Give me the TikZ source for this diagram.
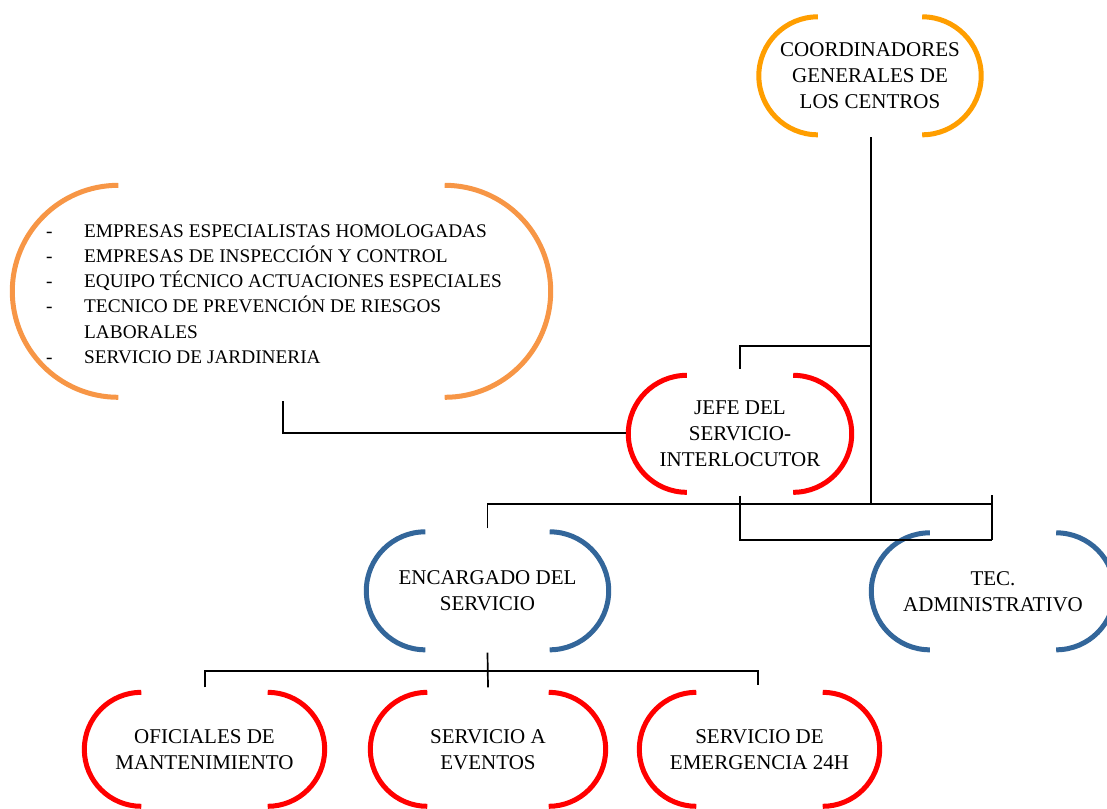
\documentclass[tikz,border=0pt]{standalone}
\usepackage{fontspec}
\setmainfont{Liberation Serif}
\usetikzlibrary{calc}
\definecolor{orA}{HTML}{FF9E00}
\definecolor{orB}{HTML}{F79646}
\definecolor{redC}{HTML}{FF0000}
\definecolor{blueC}{HTML}{33669A}
\tikzset{
  orgbox/.style={inner sep=0pt, align=center, font=\fontsize{21}{26}\selectfont},
  conn/.style={draw=black, line width=1.7pt},
  arcline/.style={line width=5pt}
}
\newcommand\mybrackets[3]{%
  \draw[arcline,#2] ($(#1.north west)+(#3pt,0)$) arc[start angle=90,end angle=270,radius=#3pt];
  \draw[arcline,#2] ($(#1.north east)-(#3pt,0)$) arc[start angle=90,end angle=-90,radius=#3pt];
}
\begin{document}
\begin{tikzpicture}[x=1pt,y=-1pt]
\useasboundingbox (0,0) rectangle (1107,808);
% shapes
\node[orgbox, minimum width=222pt, minimum height=118pt] (coord) at (870,76) {COORDINADORES\\GENERALES DE\\LOS CENTROS};
\node[orgbox, minimum width=538pt, minimum height=212pt] (list) at (281.5,291.5) {};
\node[anchor=west, align=left, inner sep=0pt, font=\fontsize{19.3}{25.2}\selectfont] (listT) at (46,294) {%
\makebox[38pt][l]{-}EMPRESAS ESPECIALISTAS HOMOLOGADAS\\
\makebox[38pt][l]{-}EMPRESAS DE INSPECCIÓN Y CONTROL\\
\makebox[38pt][l]{-}EQUIPO TÉCNICO ACTUACIONES ESPECIALES\\
\makebox[38pt][l]{-}TECNICO DE PREVENCIÓN DE RIESGOS\\
\makebox[38pt][l]{}LABORALES\\
\makebox[38pt][l]{-}SERVICIO DE JARDINERIA};
\node[orgbox, minimum width=223pt, minimum height=117pt] (jefe) at (740,434) {JEFE DEL\\SERVICIO-\\INTERLOCUTOR};
\node[orgbox, minimum width=242pt, minimum height=118pt] (enc) at (487.5,591) {ENCARGADO DEL\\SERVICIO};
\node[orgbox, minimum width=243pt, minimum height=117pt] (tec) at (993,591.5) {TEC.\\ADMINISTRATIVO};
\node[orgbox, minimum width=240pt, minimum height=114pt] (ofi) at (204.5,749.5) {OFICIALES DE\\MANTENIMIENTO};
\node[orgbox, minimum width=235pt, minimum height=114pt] (serv) at (488,749.5) {SERVICIO A\\EVENTOS};
\node[orgbox, minimum width=240pt, minimum height=114pt] (emer) at (759.5,749.5) {SERVICIO DE\\EMERGENCIA 24H};
% brackets
\mybrackets{coord}{orA}{59}
\mybrackets{list}{orB}{106}
\mybrackets{jefe}{redC}{58.5}
\mybrackets{enc}{blueC}{59}
\mybrackets{tec}{blueC}{58.5}
\mybrackets{ofi}{redC}{57}
\mybrackets{serv}{redC}{57}
\mybrackets{emer}{redC}{57}
% connectors
\coordinate (trunkEnd) at (871,504);
\coordinate (jefeBend) at (871,346);
\coordinate (tecTop) at (992,495);
\coordinate (tecLow) at (992,540);
\coordinate (botBar) at (758,671);
\draw[conn] ($(coord.south)+(1,2)$) -- (trunkEnd);
\draw[conn] (jefeBend) -| ($(jefe.north)+(0,-6.5)$);
\draw[conn] ($(list.south)+(1.5,3.5)$) |- ($(jefe.west)+(-2,-1)$);
\draw[conn] ($(enc.north)+(0,-3.5)$) |- (tecTop |- trunkEnd);
\draw[conn] (tecTop) -- (tecLow);
\draw[conn] ($(jefe.south)+(0,3)$) |- (tecLow);
\draw[conn] ($(enc.south)+(0,2.5)$) -- ($(serv.north)+(0,-5)$);
\draw[conn] ($(ofi.north)+(0.5,-5)$) |- (botBar) -- ($(emer.north)+(-1.5,-7)$);
\end{tikzpicture}
\end{document}
